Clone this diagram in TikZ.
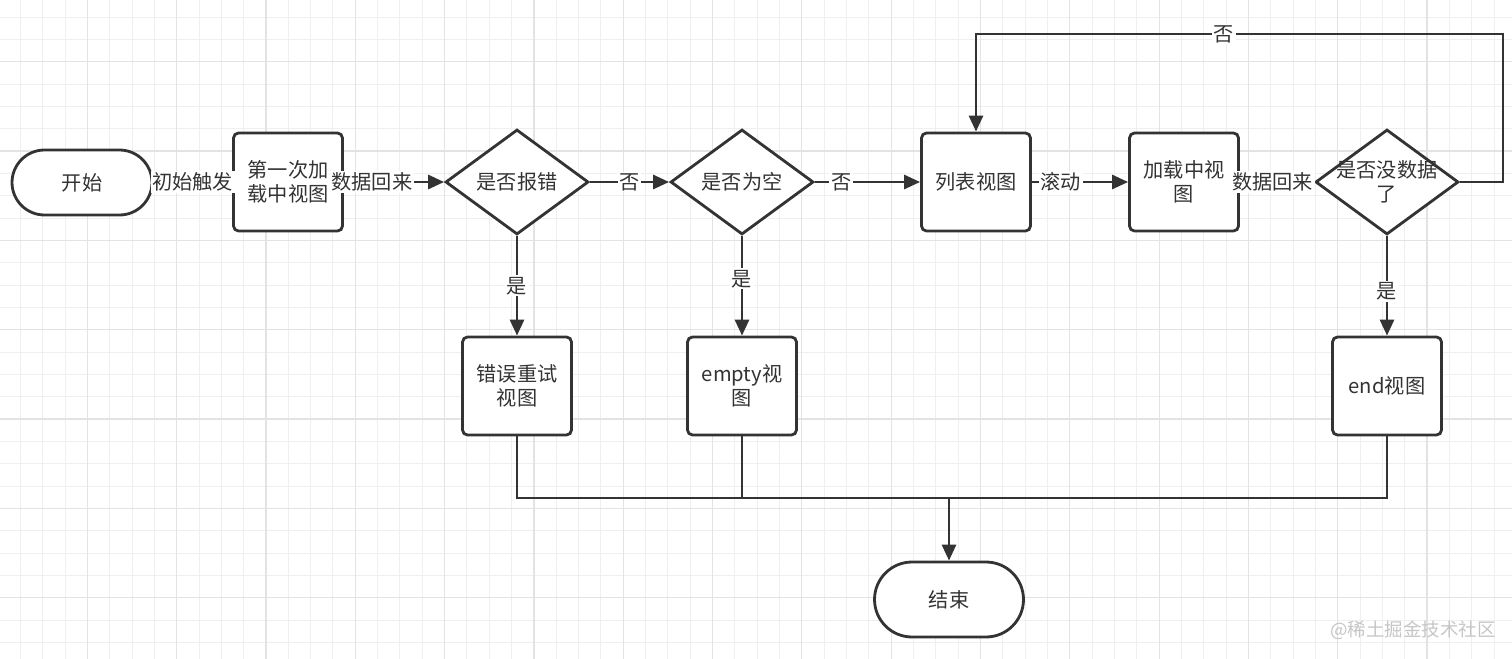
\documentclass[tikz,border=0pt]{standalone}
\usepackage{fontspec}
\setmainfont{Noto Sans CJK SC}
\usepackage{tikz}
\usetikzlibrary{shapes, arrows.meta, calc, positioning}

\definecolor{ink}{HTML}{333333}
\definecolor{gridminor}{HTML}{EFEFEF}
\definecolor{gridmajor}{HTML}{E3E3E3}

\begin{document}
\begin{tikzpicture}[x=0.02cm, y=-0.02cm, >={Triangle[length=0.32cm, width=0.28cm]}, line width=1.6pt, color=ink, font=\fontsize{11.5}{13.5}\selectfont]
	\tikzstyle{terminal} = [draw, rectangle, rounded corners=0.65cm, minimum width=2.8cm, minimum height=1.3cm, fill=white]
	\tikzstyle{viewbox} = [draw, rectangle, rounded corners=0.1cm, minimum width=2.18cm, minimum height=1.96cm, align=center, fill=white]
	\tikzstyle{decide} = [draw, diamond, minimum width=2.86cm, minimum height=2.1cm, inner sep=0pt, align=center, fill=white]
	\tikzstyle{cond} = [fill=white, inner sep=1pt]
	\tikzstyle{minorline} = [gridminor, line width=0.5pt]
	\tikzstyle{majorline} = [gridmajor, line width=0.7pt]

	\useasboundingbox (0,0) rectangle (1512,659);
	\fill[white] (0,0) rectangle (1512,659);

	% background grid
	\foreach \k in {-3,...,64}
		\draw[minorline] ({87.3+\k*22.33},0) -- ({87.3+\k*22.33},659);
	\foreach \k in {-2,...,27}
		\draw[minorline] (0,{61.7+\k*22.33}) -- (1512,{61.7+\k*22.33});
	\foreach \k in {-1,...,16}
		\draw[majorline] ({87.3+\k*89.32},0) -- ({87.3+\k*89.32},659);
	\foreach \k in {0,...,7}
		\draw[majorline] (0,{61.7+\k*89.32}) -- (1512,{61.7+\k*89.32});

	\begin{scope}
		\path
			node[terminal] (start) at (82,182.5) {开始}
			node[viewbox] (firstload) at (288,182) {第一次加\\载中视图}
			node[decide] (errq) at (517,182) {是否报错}
			node[decide] (emptyq) at (742,182) {是否为空}
			node[viewbox] (listview) at (976,182) {列表视图}
			node[viewbox] (loadview) at (1184,182) {加载中视\\图}
			node[decide, label={[align=center]center:是否没数据\\了}] (endq) at (1387,182) {}
			node[viewbox] (errview) at (517,386) {错误重试\\视图}
			node[viewbox] (emptyview) at (742,386) {empty视\\图}
			node[viewbox] (endview) at (1387,386) {end视图}
			node[terminal, rounded corners=0.75cm, minimum width=2.98cm, minimum height=1.5cm] (finish) at (949,599.5) {结束}
		;
		\coordinate (bus) at (949,498);
		\coordinate (loopR) at (1503,34);
		\coordinate (loopL) at (976,34);

		\draw[->] (start) -- node[cond] {初始触发} (firstload);
		\draw[->] (firstload) -- node[cond, pos=0.28] {数据回来} (errq);
		\draw[->] (errq) -- node[cond] {否} (emptyq);
		\draw[->] (emptyq) -- node[cond, pos=0.25] {否} (listview);
		\draw[->] (listview) -- node[cond, pos=0.3] {滚动} (loadview);
		\draw[->] (loadview) -- node[cond, pos=0.44] {数据回来} (endq);
		\draw[->] (endq.east) -| (loopR) -- node[cond, pos=0.53] {否} (loopL) -- (listview.north);

		\draw[->] (errq) -- node[cond] {是} (errview);
		\draw[->] (emptyq) -- node[cond, pos=0.43] {是} (emptyview);
		\draw[->] (endq) -- node[cond, pos=0.56] {是} (endview);

		\draw (errview.south) |- (bus) -| (endview.south);
		\draw (emptyview.south) -- (emptyview.south |- bus);
		\draw[->] (bus) -- (finish);
	\end{scope}

	\node[text=gray!45, font=\fontsize{10.5}{12}\selectfont] (wmark) at (1413,630) {@稀土掘金技术社区};
\end{tikzpicture}
\end{document}
